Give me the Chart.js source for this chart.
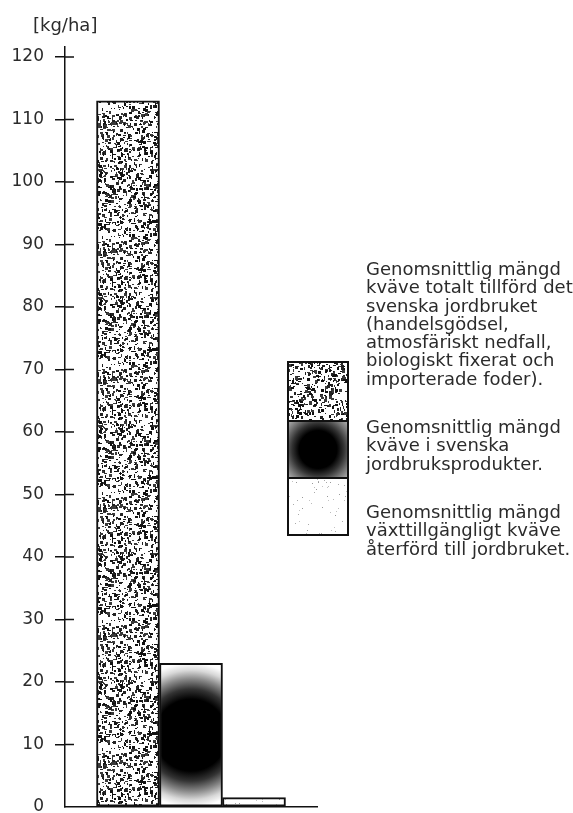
<!DOCTYPE html>
<html>
<head>
<meta charset="utf-8">
<script src="https://cdn.jsdelivr.net/npm/chart.js@4.4.1/dist/chart.umd.min.js"></script>
<style>
    html, body { margin: 0; padding: 0; background: #fff; }
    #wrap { position: relative; width: 573px; height: 813px; overflow: hidden; }
    #kvave-chart { position: absolute; left: 0; top: 0; }
    .unit { position: absolute; left: 33px; top: 14px; font: 18px/21px 'DejaVu Sans'; color: #2b2b2b; }
    .note { position: absolute; left: 366px; font: 18px/18.3px 'DejaVu Sans'; color: #2b2b2b; white-space: pre; }
</style>
</head>
<body>
<div id="wrap">
    <canvas id="kvave-chart" width="573" height="813"></canvas>
    <div class="unit">[kg/ha]</div>
    <div class="note" style="top: 260px;">Genomsnittlig mängd
kväve totalt tillförd det
svenska jordbruket
(handelsgödsel,
atmosfäriskt nedfall,
biologiskt fixerat och
importerade foder).</div>
    <div class="note" style="top: 418px;">Genomsnittlig mängd
kväve i svenska
jordbruksprodukter.</div>
    <div class="note" style="top: 503px;">Genomsnittlig mängd
växttillgängligt kväve
återförd till jordbruket.</div>
</div>

<script>
const categories = ['Tillfört kväve', 'Kväve i produkter', 'Återfört kväve'];
const values = [113, 23, 1.5];
const yTicks = [0, 10, 20, 30, 40, 50, 60, 70, 80, 90, 100, 110, 120];

// seeded generator (mulberry32) so the textures look the same every run
let seed = 1234567;
let rnd = function () {
    seed |= 0;
    seed = (seed + 0x6D2B79F5) | 0;
    let t = Math.imul(seed ^ (seed >>> 15), 1 | seed);
    t = (t + Math.imul(t ^ (t >>> 7), 61 | t)) ^ t;
    return ((t ^ (t >>> 14)) >>> 0) / 4294967296;
};

let makeTexture = function (count, colors, maxSize) {
    const size = 128;
    let c = document.createElement('canvas');
    c.width = size;
    c.height = size;
    let g = c.getContext('2d');
    g.fillStyle = '#fff';
    g.fillRect(0, 0, size, size);
    for (let i = 0; i < count; i++) {
        g.fillStyle = colors[Math.floor(rnd() * colors.length)];
        let w = 1 + Math.floor(rnd() * maxSize);
        let h = 1 + Math.floor(rnd() * maxSize);
        g.fillRect(Math.floor(rnd() * size), Math.floor(rnd() * size), w, h);
    }
    return c;
};

const ctx = document.getElementById('kvave-chart').getContext('2d');
const stipple = ctx.createPattern(makeTexture(1750, ['#111', '#222', '#3a3a3a'], 3), 'repeat');
const sparse = ctx.createPattern(makeTexture(260, ['#aaa', '#bbb', '#999', '#c4c4c4'], 1), 'repeat');

let productGradient = function (chart, index) {
    let xs = chart.scales.x;
    let ys = chart.scales.y;
    if (!xs || !ys) return '#444';
    let cx = xs.getPixelForValue(index + 1);
    let top = ys.getPixelForValue(values[index]);
    let bottom = ys.getPixelForValue(0);
    if (!isFinite(cx) || !isFinite(top) || !isFinite(bottom)) return '#444';
    let cy = (top + bottom) / 2;
    let r = (bottom - top) / 2;
    let grad = chart.ctx.createRadialGradient(cx, cy, 0, cx, cy, r);
    grad.addColorStop(0, '#000');
    grad.addColorStop(0.5, '#000');
    grad.addColorStop(0.64, '#333');
    grad.addColorStop(0.78, '#888');
    grad.addColorStop(0.9, '#d8d8d8');
    grad.addColorStop(1, '#fff');
    return grad;
};

// tick marks that cross the y axis, and the legend boxes at the right
const extras = {
    id: 'extras',
    afterDraw: function (chart) {
        let c = chart.ctx;
        let ys = chart.scales.y;
        c.save();
        c.strokeStyle = '#111';
        c.lineWidth = 1.5;
        ys.ticks.forEach(function (t) {
            if (t.value === 0) return;
            let py = ys.getPixelForValue(t.value);
            c.beginPath();
            c.moveTo(chart.chartArea.left, py);
            c.lineTo(chart.chartArea.left + 9, py);
            c.stroke();
        });

        let bx = 288, bw = 60;
        let rows = [[362, 59], [421, 57], [478, 57]];
        c.fillStyle = stipple;
        c.fillRect(bx, rows[0][0], bw, rows[0][1]);

        let cx = bx + bw / 2, cy = rows[1][0] + rows[1][1] / 2;
        let grad = c.createRadialGradient(cx, cy, 0, cx, cy, 42);
        grad.addColorStop(0, '#000');
        grad.addColorStop(0.45, '#000');
        grad.addColorStop(0.62, '#333');
        grad.addColorStop(0.8, '#777');
        grad.addColorStop(1, '#bbb');
        c.fillStyle = grad;
        c.fillRect(bx, rows[1][0], bw, rows[1][1]);

        c.fillStyle = sparse;
        c.fillRect(bx, rows[2][0], bw, rows[2][1]);

        c.lineWidth = 2;
        rows.forEach(function (r) {
            c.strokeRect(bx, r[0], bw, r[1]);
        });
        c.restore();
    }
};

window.kvaveChart = new Chart(ctx, {
    type: 'bar',
    data: {
        labels: categories,
        datasets: [{
            data: values.map(function (v, i) { return { x: i + 1, y: v }; }),
            backgroundColor: function (c) {
                if (c.type !== 'data') return '#888';
                if (c.dataIndex === 0) return stipple;
                if (c.dataIndex === 2) return sparse;
                return productGradient(c.chart, c.dataIndex);
            },
            borderColor: '#111',
            borderWidth: 2,
            borderSkipped: false,
            barPercentage: 1,
            categoryPercentage: 1
        }]
    },
    options: {
        responsive: false,
        animation: false,
        events: [],
        layout: {
            padding: { left: 0, top: 47, right: 256, bottom: 6 }
        },
        plugins: {
            legend: { display: false },
            tooltip: { enabled: false }
        },
        scales: {
            x: {
                type: 'linear',
                min: 0,
                max: 4,
                offset: false,
                ticks: { display: false, stepSize: 1 },
                grid: { display: false, drawTicks: false, offset: false },
                border: { display: true, color: '#111', width: 1.5 }
            },
            y: {
                min: 0,
                max: 121.6,
                afterBuildTicks: function (scale) {
                    scale.ticks = yTicks.map(function (v) { return { value: v }; });
                },
                afterFit: function (scale) {
                    scale.width = 65;
                    scale.paddingTop = 0;
                    scale.paddingBottom = 0;
                },
                ticks: {
                    padding: 11,
                    color: '#2b2b2b',
                    font: { family: 'DejaVu Sans', size: 17 }
                },
                grid: {
                    drawOnChartArea: false,
                    tickLength: 10,
                    lineWidth: 1.5,
                    color: function (c) {
                        return c.tick && c.tick.value === 0 ? 'rgba(0,0,0,0)' : '#111';
                    }
                },
                border: { display: true, color: '#111', width: 1.5 }
            }
        }
    },
    plugins: [extras]
});
</script>
</body>
</html>
